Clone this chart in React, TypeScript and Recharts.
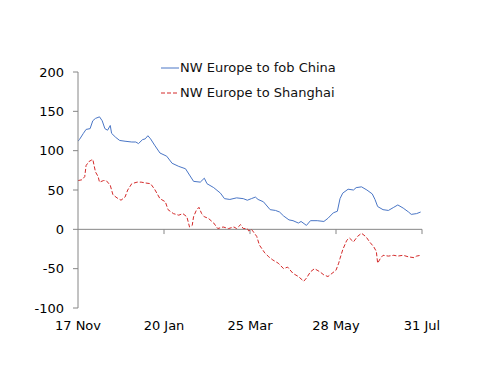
import React from "react";
import { LineChart, Line, XAxis, YAxis, ReferenceLine } from "recharts";

// days counted from 17 Nov
const fobChinaDays = [0, 1, 4, 6, 9, 11, 13, 16, 18, 20, 22, 24, 25, 28, 31, 35, 40, 43, 45, 48, 50, 52, 54, 57, 61, 66, 70, 75, 80, 83, 86, 91, 94, 96, 101, 106, 109, 113, 118, 123, 126, 129, 132, 134, 138, 143, 147, 150, 153, 157, 160, 164, 166, 170, 173, 178, 183, 186, 190, 193, 195, 197, 201, 205, 207, 211, 215, 219, 221, 223, 227, 231, 235, 238, 242, 246, 248, 252, 255];
const fobChinaValues = [112, 114, 122, 127, 128, 138, 141, 143, 138, 128, 126, 132, 122, 117, 113, 112, 111, 111, 109, 114, 115, 119, 115, 107, 97, 93, 84, 80, 77, 69, 61, 60, 65, 58, 53, 46, 39, 38, 40, 39, 37, 39, 41, 38, 35, 25, 24, 22, 17, 12, 11, 8, 10, 5, 11, 11, 10, 14, 21, 23, 39, 46, 51, 50, 53, 54, 50, 45, 38, 29, 25, 24, 28, 31, 27, 22, 19, 20, 22];

const shanghaiDays = [0, 3, 5, 6, 8, 10, 11, 13, 15, 16, 19, 21, 24, 26, 29, 32, 35, 37, 40, 44, 47, 50, 54, 57, 61, 65, 67, 71, 75, 78, 81, 83, 85, 86, 88, 90, 92, 94, 97, 101, 104, 108, 112, 116, 118, 121, 123, 126, 127, 129, 130, 133, 135, 139, 142, 145, 149, 153, 156, 160, 164, 168, 170, 173, 176, 180, 183, 186, 189, 192, 194, 195, 197, 200, 202, 205, 208, 211, 214, 215, 217, 220, 222, 223, 225, 227, 231, 235, 238, 242, 246, 250, 252, 255];
const shanghaiValues = [62, 63, 67, 81, 86, 88, 89, 73, 67, 60, 62, 62, 56, 44, 40, 37, 41, 50, 58, 60, 60, 59, 58, 51, 39, 35, 25, 20, 18, 20, 16, 3, 5, 16, 24, 28, 20, 16, 14, 8, 1, 3, 1, 3, 1, 6, 1, 1, -2, 0, -2, -9, -20, -30, -35, -39, -43, -50, -48, -56, -60, -66, -62, -54, -50, -54, -58, -60, -56, -52, -43, -37, -26, -14, -11, -16, -9, -5, -9, -11, -16, -22, -28, -43, -37, -33, -34, -33, -34, -33, -35, -36, -34, -33];

const xTicks = [0, 64, 128, 192, 256];
const xTickLabels = ["17 Nov", "20 Jan", "25 Mar", "28 May", "31 Jul"];
const yTicks = [-100, -50, 0, 50, 100, 150, 200];

const series = [
  { key: "fob", name: "NW Europe to fob China", color: "#4a76c6", dash: undefined as string | undefined },
  { key: "sha", name: "NW Europe to Shanghai", color: "#d42a2a", dash: "4 2" },
];

const fobData = fobChinaDays.map((d, i) => ({ day: d, fob: fobChinaValues[i] }));
const shaData = shanghaiDays.map((d, i) => ({ day: d, sha: shanghaiValues[i] }));

const axisColor = "#868686";
const font = "'DejaVu Sans', Verdana, sans-serif";

const App = () => {
  return (
    <div style={{ position: "absolute", left: 0, top: 0, width: 500, height: 386, fontFamily: font, background: "#fff" }}>
      <LineChart width={500} height={386} margin={{ top: 72, right: 78, bottom: 48, left: 38 }}>
        <XAxis
          dataKey="day"
          type="number"
          domain={[0, 256]}
          ticks={xTicks}
          tickFormatter={(v: number) => xTickLabels[xTicks.indexOf(v)]}
          axisLine={false}
          tickLine={false}
          tickSize={0}
          tickMargin={13}
          height={30}
          interval={0}
          tick={{ fill: "#000", fontSize: 13, fontFamily: font }}
          allowDataOverflow
        />
        <YAxis
          type="number"
          domain={[-100, 200]}
          ticks={yTicks}
          width={40}
          interval={0}
          stroke={axisColor}
          tickSize={5}
          tickMargin={9}
          tick={{ fill: "#000", fontSize: 13, fontFamily: font }}
        />
        <ReferenceLine y={0} stroke={axisColor} />
        {xTicks.slice(1).map((t) => (
          <ReferenceLine
            key={t}
            segment={[{ x: t, y: 0 }, { x: t, y: -6 }]}
            stroke={axisColor}
          />
        ))}
        <Line
          data={fobData}
          dataKey="fob"
          type="linear"
          stroke={series[0].color}
          strokeWidth={1}
          dot={false}
          isAnimationActive={false}
        />
        <Line
          data={shaData}
          dataKey="sha"
          type="linear"
          stroke={series[1].color}
          strokeWidth={1}
          strokeDasharray={series[1].dash}
          dot={false}
          isAnimationActive={false}
        />
      </LineChart>
      <div style={{ position: "absolute", left: 161, top: 55, fontSize: 13, color: "#111" }}>
        {series.map((s) => (
          <div key={s.key} style={{ display: "flex", alignItems: "center", height: 25 }}>
            <svg width={18} height={10} style={{ marginRight: 1 }}>
              <line x1={0} y1={5} x2={18} y2={5} stroke={s.color} strokeWidth={1} strokeDasharray={s.dash} />
            </svg>
            <span>{s.name}</span>
          </div>
        ))}
      </div>
    </div>
  );
};

export default App;
